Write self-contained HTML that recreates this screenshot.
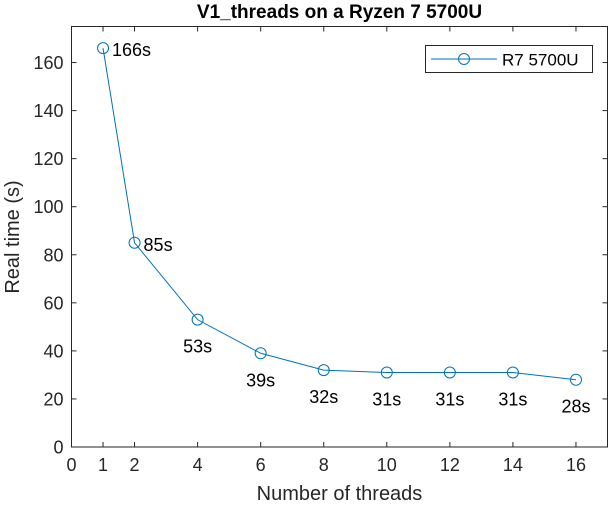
<!DOCTYPE html>
<html><head><meta charset="utf-8"><style>body{margin:0;background:#fff}svg{font-family:"Liberation Sans",sans-serif}</style></head>
<body>
<svg width="610" height="504">
<script>
const threads=[1,2,4,6,8,10,12,14,16];
const times=[166,85,53,39,32,31,31,31,28];
const labels=["166s","85s","53s","39s","32s","31s","31s","31s","28s"];
const xTicks=[0,1,2,4,6,8,10,12,14,16];
const yTicks=[0,20,40,60,80,100,120,140,160];
</script>
<g id="g"></g>
<script>
(function(){
const L=71.5,R=607.5,T=26.5,B=447,xmax=17,ymax=175;
const X=v=>L+(R-L)*v/xmax, Y=v=>B-(B-T)*v/ymax;
const ns="http://www.w3.org/2000/svg",g=document.getElementById('g');
function el(t,a,txt){const e=document.createElementNS(ns,t);for(const k in a)e.setAttribute(k,a[k]);if(txt!=null)e.textContent=txt;g.appendChild(e);return e;}
let e=el('rect',{x:L,y:T,width:R-L,height:B-T,fill:'none',stroke:'#262626','stroke-width':1});

xTicks.forEach(v=>{const x=X(v);
el('line',{x1:x,x2:x,y1:B,y2:B-5,stroke:'#262626'});el('line',{x1:x,x2:x,y1:T,y2:T+5,stroke:'#262626'});
e=el('text',{x:x,y:B+24,'text-anchor':'middle','font-size':18,fill:'#262626'},v);
});
yTicks.forEach(v=>{const y=Y(v);
el('line',{x1:L,x2:L+5,y1:y,y2:y,stroke:'#262626'});el('line',{x1:R,x2:R-5,y1:y,y2:y,stroke:'#262626'});
e=el('text',{x:L-8,y:y+6.5,'text-anchor':'end','font-size':18,fill:'#262626'},v);
});
e=el('polyline',{points:threads.map((t,i)=>X(t)+','+Y(times[i])).join(' '),fill:'none',stroke:'#0072BD','stroke-width':1});

threads.forEach((t,i)=>{
e=el('circle',{cx:X(t),cy:Y(times[i]),r:5.5,fill:'none',stroke:'#0072BD','stroke-width':1});

const right=i<2;
e=el('text',{x:right?X(t)+9:X(t),y:right?Y(times[i])+8:Y(times[i])+33,'text-anchor':right?'start':'middle','font-size':18,fill:'#000'},labels[i]);
});
})();
</script>
<text x="339.5" y="18" text-anchor="middle" font-size="19" font-weight="bold">V1_threads on a Ryzen 7 5700U</text>
<text x="339.5" y="500" text-anchor="middle" font-size="20" fill="#262626">Number of threads</text>
<text transform="translate(19,237) rotate(-90)" text-anchor="middle" font-size="20" fill="#262626">Real time (s)</text>
<g>
<rect x="425.5" y="45.5" width="167" height="27" fill="#fff" stroke="#262626"/>
<line x1="431" x2="497" y1="59" y2="59" stroke="#0072BD"/>
<circle cx="464" cy="59" r="5.5" fill="none" stroke="#0072BD"/>
<text x="502" y="65.5" font-size="17" fill="#000">R7 5700U</text>
</g>
</svg>
</body></html>
